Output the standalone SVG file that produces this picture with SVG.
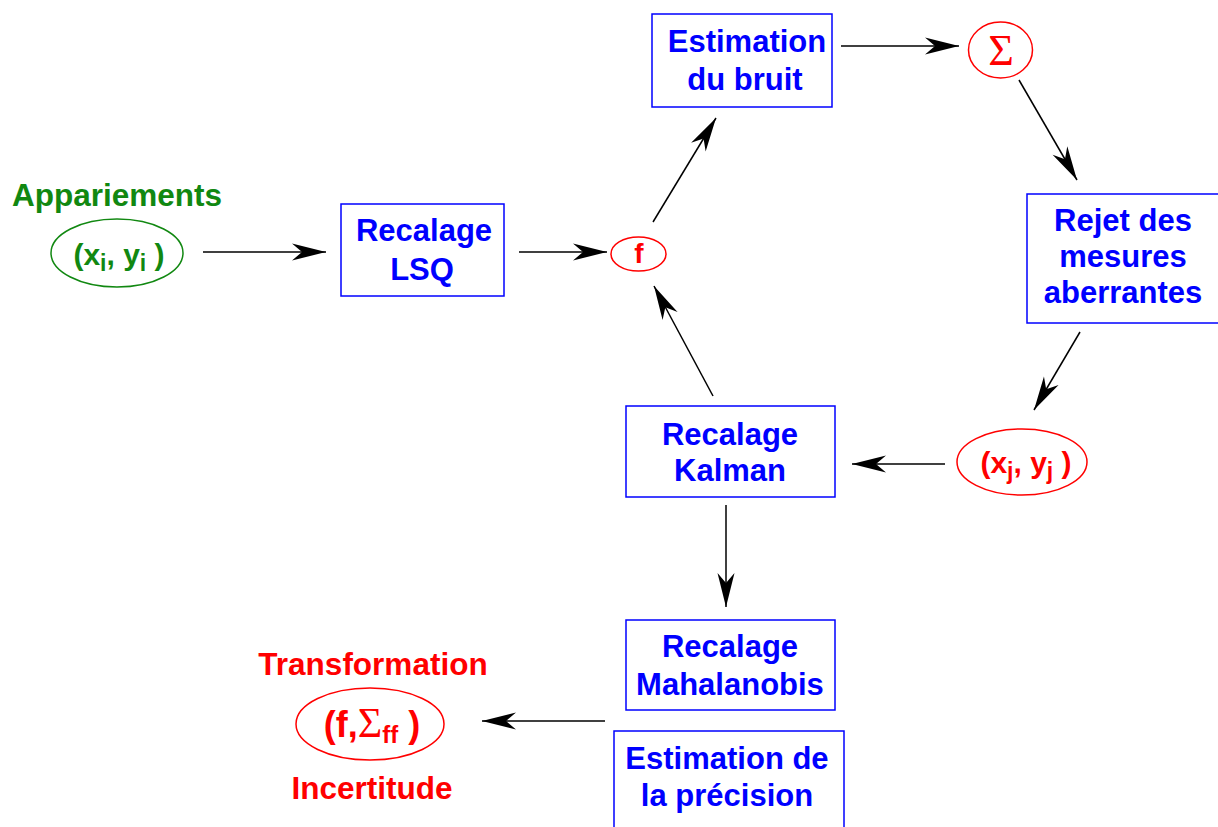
<svg xmlns="http://www.w3.org/2000/svg" width="1218" height="827" viewBox="0 0 1218 827">
<style>
.box{fill:#fff;stroke:#0000ff;stroke-width:1.5}
.bt{font-family:"Liberation Sans",Arial,sans-serif;font-weight:bold;font-size:31px;fill:#0000ff;text-anchor:middle}
.re{fill:none;stroke:#ff0000;stroke-width:1.5}
.ge{fill:none;stroke:#118811;stroke-width:1.5}
.rt{font-family:"Liberation Sans",Arial,sans-serif;font-weight:bold;fill:#ff0000;text-anchor:middle}
.gt{font-family:"Liberation Sans",Arial,sans-serif;font-weight:bold;fill:#118811;text-anchor:middle}
.sym{font-family:"Liberation Serif","Times New Roman",serif;font-weight:normal}
.c{stroke:#000;stroke-width:1.5;fill:none;marker-end:url(#ah)}
</style>
<defs>
<marker id="ah" markerUnits="userSpaceOnUse" markerWidth="40" markerHeight="20" viewBox="-36 -10 40 20" refX="0" refY="0" orient="auto">
<path d="M0,0 L-34,-8.5 L-24,0 L-34,8.5 Z" fill="#000"/>
</marker>
</defs>
<rect width="1218" height="827" fill="#fff"/>
<g id="connectors">
<line class="c" x1="203" y1="252" x2="326" y2="252"/>
<line class="c" x1="519" y1="252" x2="607" y2="252"/>
<line class="c" x1="653" y1="222" x2="716" y2="118"/>
<line class="c" x1="841" y1="46" x2="959" y2="46"/>
<line class="c" x1="1019" y1="80" x2="1077" y2="180"/>
<line class="c" x1="1080" y1="332" x2="1034" y2="410"/>
<line class="c" x1="945" y1="464" x2="852" y2="464"/>
<line class="c" x1="713" y1="396" x2="654" y2="286"/>
<line class="c" x1="726" y1="505" x2="726" y2="607"/>
<line class="c" x1="605" y1="721" x2="482" y2="721"/>
</g>
<g id="appariements">
<text class="gt" x="117" y="206" font-size="31.5">Appariements</text>
<ellipse class="ge" cx="117" cy="253" rx="66" ry="34"/>
<text class="gt" x="119" y="265" font-size="30">(x<tspan font-size="23" dy="6">i</tspan><tspan dy="-6">, y</tspan><tspan font-size="23" dy="6">i</tspan><tspan dy="-6"> )</tspan></text>
</g>
<g id="lsq">
<rect class="box" x="341" y="204" width="163" height="92"/>
<text class="bt" x="424" y="241">Recalage</text>
<text class="bt" x="422" y="280">LSQ</text>
</g>
<g id="f">
<ellipse class="re" cx="638.5" cy="254" rx="27.5" ry="17"/>
<text class="rt" x="639" y="263" font-size="28">f</text>
</g>
<g id="bruit">
<rect class="box" x="652" y="14" width="180" height="93"/>
<text class="bt" x="747" y="52">Estimation</text>
<text class="bt" x="745" y="90">du bruit</text>
</g>
<g id="sigma">
<ellipse class="re" cx="1000.5" cy="50" rx="32" ry="28"/>
<text class="rt sym" x="1001" y="65" font-size="44">Σ</text>
</g>
<g id="rejet">
<rect class="box" x="1027" y="194" width="195" height="129"/>
<text class="bt" x="1123" y="231">Rejet des</text>
<text class="bt" x="1123" y="267">mesures</text>
<text class="bt" x="1123" y="303">aberrantes</text>
</g>
<g id="xjyj">
<ellipse class="re" cx="1022" cy="462" rx="65" ry="33"/>
<text class="rt" x="1026" y="473" font-size="30">(x<tspan font-size="23" dy="6">j</tspan><tspan dy="-6">, y</tspan><tspan font-size="23" dy="6">j</tspan><tspan dy="-6"> )</tspan></text>
</g>
<g id="kalman">
<rect class="box" x="626" y="406" width="209" height="91"/>
<text class="bt" x="730" y="445">Recalage</text>
<text class="bt" x="730" y="481">Kalman</text>
</g>
<g id="mahalanobis">
<rect class="box" x="626" y="620" width="209" height="90"/>
<text class="bt" x="730" y="657">Recalage</text>
<text class="bt" x="730" y="695">Mahalanobis</text>
</g>
<g id="precision">
<rect class="box" x="614" y="731" width="230" height="110"/>
<text class="bt" x="727" y="769">Estimation de</text>
<text class="bt" x="727" y="806">la précision</text>
</g>
<g id="transformation">
<text class="rt" x="373" y="675" font-size="31.5">Transformation</text>
<ellipse class="re" cx="370" cy="724" rx="74" ry="36"/>
<text class="rt" x="372" y="737" font-size="36">(f,<tspan class="sym" font-size="42">Σ</tspan><tspan font-size="24" dy="6">ff</tspan><tspan dy="-6"> )</tspan></text>
<text class="rt" x="372" y="799" font-size="31.5">Incertitude</text>
</g>
</svg>
